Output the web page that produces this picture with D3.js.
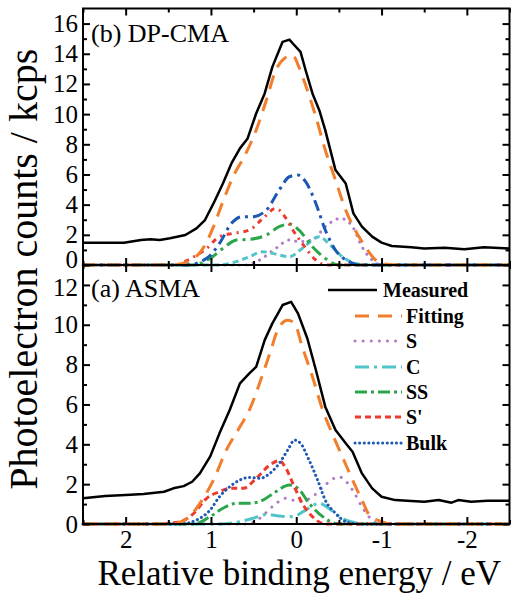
<!DOCTYPE html>
<html><head><meta charset="utf-8">
<script src="https://cdn.jsdelivr.net/npm/d3@7"></script>
<style>body{margin:0;background:#fff}svg{display:block}</style>
</head><body>
<svg id="c" width="512" height="595"></svg>
<script>
// ---------- data ----------
const xTicks = [2, 1, 0, -1, -2];
const topYTicks = [0, 2, 4, 6, 8, 10, 12, 14, 16];
const botYTicks = [0, 2, 4, 6, 8, 10, 12];
const legendLabels = ["Measured", "Fitting", "S", "C", "SS", "S'", "Bulk"];

// (b) DP-CMA
const bMeasuredX = [2.5,2.02,1.82,1.71,1.6,1.48,1.3,1.17,1.07,0.97,0.86,0.76,0.66,0.57,0.47,0.37,0.28,0.16,0.08,0.04,-0.05,-0.11,-0.19,-0.27,-0.34,-0.46,-0.58,-0.67,-0.77,-0.89,-1.0,-1.12,-1.35,-1.5,-1.74,-1.97,-2.2,-2.5];
const bMeasuredY = [1.48,1.48,1.66,1.7,1.66,1.77,1.99,2.43,2.98,4.08,5.4,6.73,7.73,8.39,10.04,11.37,13.13,14.79,14.94,14.68,14.13,12.91,11.37,10.26,8.94,6.29,5.4,3.42,2.54,1.88,1.48,1.26,1.17,1.1,1.15,1.04,1.17,1.1];
const bFitX = [2.5,1.44,1.2,1.07,0.97,0.86,0.74,0.59,0.47,0.35,0.24,0.14,0.04,-0.03,-0.13,-0.23,-0.34,-0.46,-0.58,-0.69,-0.81,-0.93,-1.04,-1.2,-2.5];
const bFitY = [0,0,0.44,1.32,2.54,4.2,5.85,7.4,8.94,10.93,12.91,13.69,13.9,13.13,11.59,9.82,7.62,5.63,3.64,2.32,1.21,0.33,0.07,0,0];
const bBulkX = [2.5,1.28,1.05,0.9,0.76,0.64,0.51,0.35,0.2,0.08,-0.02,-0.11,-0.23,-0.34,-0.46,-0.62,-0.73,-2.5];
const bBulkY = [0,0,0.44,1.43,2.76,3.2,3.2,3.64,4.97,5.85,5.96,5.52,4.08,2.32,0.99,0.22,0,0];
const bSpX = [2.5,1.44,1.2,1.05,0.9,0.74,0.55,0.39,0.24,0.12,0.04,-0.07,-0.23,-0.34,-2.5];
const bSpY = [0,0,0.55,1.1,1.88,2.1,2.32,3.09,3.75,3.09,2.32,1.43,0.33,0,0];
const bSSX = [2.5,1.2,1.01,0.86,0.7,0.55,0.35,0.2,0.08,-0.03,-0.19,-0.34,-0.5,-2.5];
const bSSY = [0,0,0.44,1.1,1.66,1.7,1.99,2.54,2.72,2.32,1.21,0.44,0,0];
const bCX = [2.5,0.9,0.7,0.55,0.39,0.28,0.08,-0.07,-0.27,-0.38,-0.54,-0.69,-0.85,-2.5];
const bCY = [0,0,0.22,0.55,0.88,0.77,0.55,1.1,1.88,1.43,0.55,0.11,0,0];
const bSX = [2.5,0.59,0.43,0.24,0.08,-0.03,-0.19,-0.34,-0.52,-0.66,-0.77,-0.89,-1.0,-2.5];
const bSY = [0,0,0.33,1.1,1.66,1.55,1.66,2.54,3.09,2.54,1.21,0.33,0,0];

// (a) ASMA
const aMeasuredX = [2.5,2.24,2.0,1.79,1.55,1.44,1.32,1.22,1.13,1.01,0.9,0.78,0.66,0.55,0.47,0.37,0.28,0.16,0.06,-0.02,-0.13,-0.23,-0.34,-0.46,-0.58,-0.66,-0.77,-0.89,-1.0,-1.16,-1.35,-1.5,-1.67,-1.82,-1.9,-2.05,-2.24,-2.5];
const aMeasuredY = [1.29,1.4,1.45,1.5,1.62,1.79,1.9,2.12,2.54,3.38,4.55,5.72,7.06,7.56,7.89,9.23,10.07,10.99,11.15,10.57,9.31,7.73,5.89,4.72,4.05,3.63,2.54,1.79,1.37,1.2,1.15,1.12,1.2,1.07,1.2,1.12,1.17,1.17];
const aFitX = [2.5,1.48,1.32,1.2,1.09,0.97,0.82,0.66,0.55,0.43,0.31,0.2,0.1,0.02,-0.07,-0.19,-0.31,-0.42,-0.54,-0.66,-0.77,-0.87,-0.97,-1.12,-2.5];
const aFitY = [0,0,0.17,0.62,1.29,2.21,3.71,4.88,5.72,7.06,8.56,9.9,10.23,10.07,8.9,7.39,5.72,4.55,3.38,2.21,1.2,0.37,0.17,0,0];
const aBulkX = [2.5,1.36,1.17,1.01,0.9,0.78,0.66,0.55,0.43,0.31,0.2,0.1,0.02,-0.05,-0.15,-0.25,-0.34,-0.46,-0.58,-0.73,-2.5];
const aBulkY = [0,0,0.2,0.7,1.37,1.87,2.21,2.34,2.29,2.54,3.04,3.71,4.21,4.05,3.21,2.21,1.2,0.54,0.12,0,0];
const aSpX = [2.5,1.59,1.36,1.2,1.05,0.9,0.78,0.62,0.47,0.31,0.2,0.12,0.04,-0.07,-0.19,-0.34,-2.5];
const aSpY = [0,0,0.12,0.54,1.29,1.62,1.79,1.79,2.29,2.96,3.18,2.79,2.04,1.04,0.37,0,0];
const aSSX = [2.5,1.2,1.01,0.86,0.7,0.55,0.39,0.24,0.08,-0.02,-0.15,-0.31,-0.46,-0.58,-2.5];
const aSSY = [0,0,0.37,0.79,1.04,1.04,1.2,1.62,1.96,1.79,1.04,0.37,0.03,0,0];
const aCX = [2.5,0.9,0.66,0.51,0.35,0.2,0.04,-0.11,-0.27,-0.38,-0.54,-0.69,-0.81,-2.5];
const aCY = [0,0,0.12,0.28,0.48,0.4,0.37,0.7,1.04,0.79,0.28,0.07,0,0];
const aSX = [2.5,0.59,0.43,0.28,0.12,-0.03,-0.19,-0.34,-0.5,-0.66,-0.77,-0.87,-0.97,-2.5];
const aSY = [0,0,0.28,0.87,1.29,1.12,1.37,1.96,2.37,1.71,0.87,0.28,0,0];

// ---------- layout ----------
const svg = d3.select("#c");
const L = 83, R = 509.5, T = 8.5, MID = 265, B = 524;
const serif = "'Liberation Serif','Times New Roman',Times,serif";
const x = d3.scaleLinear().domain([2.5, -2.5]).range([L, R]);
const yTop = d3.scaleLinear().domain([0, 17]).range([MID, T]);
const yBot = d3.scaleLinear().domain([0, 13]).range([B, MID]);

const col = {meas:"#000", fit:"#f27e2c", S:"#b07cc8", C:"#50c4c8", SS:"#2aa54a", Sp:"#ee3a2e", Bulk:"#1c58b4"};

function zip(xs, ys){ return xs.map((v,i)=>[v, ys[i]]); }

function drawPanel(y, series){
  const g = svg.append("g");
  series.forEach(s=>{
    const line = d3.line().x(d=>x(d[0])).y(d=>y(d[1]))
      .curve(s.smooth ? d3.curveMonotoneX : d3.curveLinear);
    g.append("path").datum(zip(s.xs, s.ys))
      .attr("d", line).attr("fill","none")
      .attr("stroke", s.c).attr("stroke-width", s.w)
      .attr("stroke-dasharray", s.dash || null)
      .attr("stroke-linecap", s.cap || "butt")
      .attr("stroke-linejoin","round");
  });
}

// panel (b) top — components first, measured last
drawPanel(yTop, [
  {xs:bSX, ys:bSY, c:col.S, w:3, dash:"0.1,7", cap:"round", smooth:true},
  {xs:bCX, ys:bCY, c:col.C, w:3, dash:"6,4", smooth:true},
  {xs:bSSX, ys:bSSY, c:col.SS, w:3, dash:"12,5,3,5", smooth:true},
  {xs:bSpX, ys:bSpY, c:col.Sp, w:3, dash:"5,5,2,5", smooth:true},
  {xs:bBulkX, ys:bBulkY, c:col.Bulk, w:3, dash:"11,5,3,5", smooth:true},
  {xs:bFitX, ys:bFitY, c:col.fit, w:3, dash:"14,9", smooth:true},
  {xs:bMeasuredX, ys:bMeasuredY, c:col.meas, w:2.5, smooth:false}
]);

// panel (a) bottom
const aStyles = [
  {c:col.meas, w:2.5, dash:null},
  {c:col.fit, w:3, dash:"14,9"},
  {c:col.S, w:3, dash:"0.1,8", cap:"round"},
  {c:col.C, w:3, dash:"14,5,3,5"},
  {c:col.SS, w:3, dash:"12,4,3,4"},
  {c:col.Sp, w:3, dash:"6,4"},
  {c:col.Bulk, w:3, dash:"0.1,4.5", cap:"round"}
];
drawPanel(yBot, [
  Object.assign({xs:aSX, ys:aSY, smooth:true}, aStyles[2]),
  Object.assign({xs:aCX, ys:aCY, smooth:true}, aStyles[3]),
  Object.assign({xs:aSSX, ys:aSSY, smooth:true}, aStyles[4]),
  Object.assign({xs:aSpX, ys:aSpY, smooth:true}, aStyles[5]),
  Object.assign({xs:aBulkX, ys:aBulkY, smooth:true}, aStyles[6]),
  Object.assign({xs:aFitX, ys:aFitY, smooth:true}, aStyles[1]),
  Object.assign({xs:aMeasuredX, ys:aMeasuredY, smooth:false}, aStyles[0])
]);

// ---------- axes ----------
const MAJ = 7, MIN = 4;
const xMinor = d3.range(-2.5, 2.51, 0.5).filter(v=>!xTicks.includes(Math.round(v*10)/10));
function styleAxis(g){
  g.select(".domain").remove();
  g.selectAll(".tick line").attr("stroke","#000").attr("stroke-width",2);
  g.selectAll("text").attr("font-family", serif).attr("font-size", 25).attr("fill","#000");
}
function addAxis(axis, tx, ty){
  const g = svg.append("g").attr("transform", `translate(${tx},${ty})`).call(axis);
  styleAxis(g); return g;
}
// x axes
addAxis(d3.axisBottom(x).tickValues(xTicks).tickSize(-MAJ).tickPadding(6).tickFormat(d=>d3.format("d")(d).replace("−","-")), 0, B);
addAxis(d3.axisBottom(x).tickValues(xMinor).tickSize(-MIN).tickFormat(""), 0, B);
addAxis(d3.axisBottom(x).tickValues(xTicks).tickSize(-MAJ).tickFormat(""), 0, MID);
addAxis(d3.axisBottom(x).tickValues(xMinor).tickSize(-MIN).tickFormat(""), 0, MID);
addAxis(d3.axisTop(x).tickValues(xTicks).tickSize(-MAJ).tickFormat(""), 0, MID);
addAxis(d3.axisTop(x).tickValues(xMinor).tickSize(-MIN).tickFormat(""), 0, MID);
addAxis(d3.axisTop(x).tickValues(xTicks).tickSize(-MAJ).tickFormat(""), 0, T);
addAxis(d3.axisTop(x).tickValues(xMinor).tickSize(-MIN).tickFormat(""), 0, T);

// y axes
function yAxes(y, ticks, maxV, topLabelShift){
  const minor = d3.range(1, maxV, 2);
  const g = addAxis(d3.axisLeft(y).tickValues(ticks).tickSize(-MAJ).tickPadding(5).tickFormat(d3.format("d")), L, 0);
  return g;
}
const gTopY = addAxis(d3.axisLeft(yTop).tickValues(topYTicks).tickSize(-MAJ).tickPadding(5).tickFormat(d3.format("d")), L, 0);
addAxis(d3.axisLeft(yTop).tickValues(d3.range(1, 17, 2)).tickSize(-MIN).tickFormat(""), L, 0);
addAxis(d3.axisRight(yTop).tickValues(topYTicks).tickSize(-MAJ).tickFormat(""), R, 0);
addAxis(d3.axisRight(yTop).tickValues(d3.range(1, 17, 2)).tickSize(-MIN).tickFormat(""), R, 0);
const gBotY = addAxis(d3.axisLeft(yBot).tickValues(botYTicks).tickSize(-MAJ).tickPadding(5).tickFormat(d3.format("d")), L, 0);
addAxis(d3.axisLeft(yBot).tickValues(d3.range(1, 13, 2)).tickSize(-MIN).tickFormat(""), L, 0);
addAxis(d3.axisRight(yBot).tickValues(botYTicks).tickSize(-MAJ).tickFormat(""), R, 0);
addAxis(d3.axisRight(yBot).tickValues(d3.range(1, 13, 2)).tickSize(-MIN).tickFormat(""), R, 0);
// the shared "0"/"12" labels sit tightly as in the reference
gTopY.selectAll(".tick").filter(d=>d===0).select("text").attr("dy","0.1em");
gBotY.selectAll(".tick").filter(d=>d===12).select("text").attr("dy","0.42em");

// frame
svg.append("rect").attr("x", L).attr("y", T).attr("width", R-L).attr("height", B-T)
  .attr("fill","none").attr("stroke","#000").attr("stroke-width",2);
svg.append("line").attr("x1",L).attr("x2",R).attr("y1",MID).attr("y2",MID)
  .attr("stroke","#000").attr("stroke-width",2);

// panel labels
svg.append("text").attr("x", 91).attr("y", 42).text("(b) DP-CMA")
  .attr("font-family", serif).attr("font-size", 26);
svg.append("text").attr("x", 91).attr("y", 297).text("(a) ASMA")
  .attr("font-family", serif).attr("font-size", 26);

// axis titles
svg.append("text").attr("x", (L+R)/2 + 3).attr("y", 585).attr("text-anchor","middle")
  .text("Relative binding energy / eV").attr("font-family", serif).attr("font-size", 35);
svg.append("text").attr("transform", `translate(37,${(T+B)/2 + 3}) rotate(-90)`).attr("text-anchor","middle")
  .text("Photoelectron counts / kcps").attr("font-family", serif).attr("font-size", 40);

// legend
const legY = [290, 316, 341, 367, 392, 417, 443];
const lg = svg.append("g");
legendLabels.forEach((lab, i)=>{
  const st = aStyles[i];
  const x1 = i===0 ? 328 : 355, x2 = i===0 ? 377 : 402;
  lg.append("line").attr("x1",x1).attr("x2",x2).attr("y1",legY[i]).attr("y2",legY[i])
    .attr("stroke", st.c).attr("stroke-width", st.w).attr("stroke-dasharray", st.dash || null)
    .attr("stroke-linecap", st.cap || "butt");
  lg.append("text").attr("x", i===0 ? 383 : 406).attr("y", legY[i]+7).text(lab)
    .attr("font-family", serif).attr("font-weight","bold").attr("font-size", 20);
});
</script>
</body></html>
